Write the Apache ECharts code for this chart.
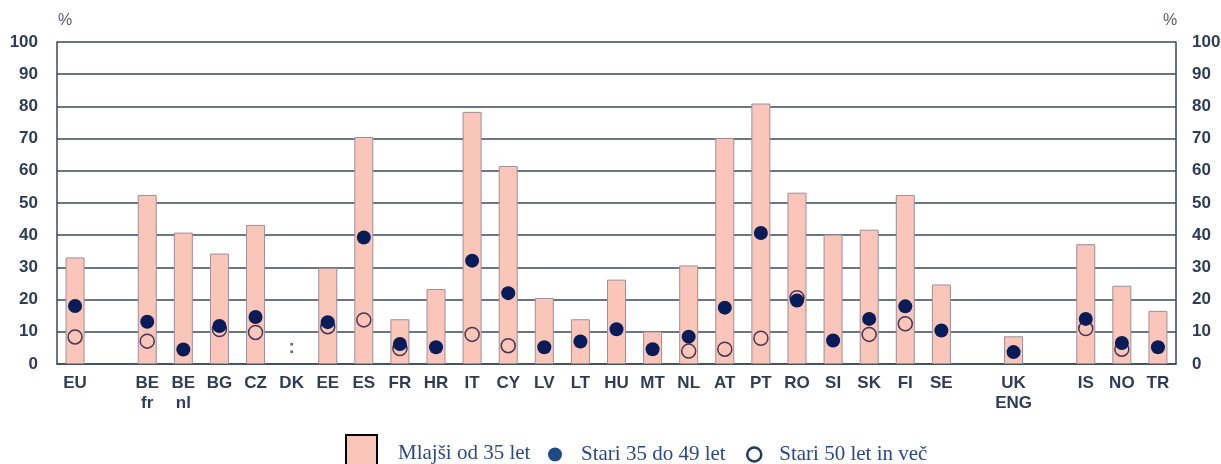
<!DOCTYPE html>
<html>
<head>
<meta charset="utf-8">
<script src="https://cdn.jsdelivr.net/npm/echarts@6/dist/echarts.min.js"></script>
<style>
html,body{margin:0;padding:0;background:#fff;}
#chart{width:1221px;height:464px;}
</style>
</head>
<body>
<div id="chart"></div>
<script>
const categories = ['EU',' ','BE\nfr','BE\nnl','BG','CZ','DK','EE','ES','FR','HR','IT','CY','LV','LT','HU','MT','NL','AT','PT','RO','SI','SK','FI','SE','  ','UK\nENG','   ','IS','NO','TR'];
const under35 = [33.1,null,52.5,40.8,34.3,43.2,null,29.8,70.5,13.9,23.3,78.3,61.5,20.5,13.9,26.2,10.1,30.6,70.2,80.9,53.2,40.2,41.7,52.5,24.7,null,8.6,null,37.2,24.3,16.5];
const age35to49 = [18.0,null,13.1,4.5,11.8,14.6,null,13.0,39.3,6.2,5.2,32.1,22.0,5.2,7.0,10.8,4.6,8.5,17.5,40.7,19.7,7.3,14.0,17.9,10.4,null,3.7,null,14.0,6.5,5.2];
const age50plus = [8.4,null,7.1,null,10.7,9.8,null,11.6,13.7,4.8,null,9.2,5.7,null,null,null,null,4.0,4.6,8.0,20.6,null,9.2,12.5,null,null,null,null,11.0,4.6,null];
const notAvailable = [null,null,null,null,null,null,0,null,null,null,null,null,null,null,null,null,null,null,null,null,null,null,null,null,null,null,null,null,null,null,null];
const yTicks = {min:0, max:100, interval:10};
const seriesNames = ['Mlajši od 35 let','Stari 35 do 49 let','Stari 50 let in več'];
const unitLabel = '%';

const axisFont = 'Liberation Sans Narrow, Arial Narrow, Liberation Sans, Arial, sans-serif';
const inkColor = '#2e3d57';
const gridColor = '#38475f';
const barColor = '#f9c6b9';
const legendText = {fontFamily:'Liberation Serif, Times New Roman, serif', fontSize:21, color:'#2b4a82'};
const unitStyle = {fontFamily:'Liberation Sans, Arial, sans-serif', fontSize:16, fill:'#55606e'};

const chart = echarts.init(document.getElementById('chart'), null, {renderer:'canvas'});
chart.setOption({
  animation:false,
  grid:{left:57, right:45, top:42, bottom:100, outerBoundsMode:'none', containLabel:false},
  graphic:[
    {type:'text', left:58, top:13, style:Object.assign({text:unitLabel}, unitStyle)},
    {type:'text', left:1163, top:13, style:Object.assign({text:unitLabel}, unitStyle)},
    {type:'rect', left:345, top:434, z:100, shape:{width:31, height:36},
     style:{fill:barColor, stroke:'#000', lineWidth:2}}
  ],
  legend:[
    {left:340, top:429, itemWidth:31, itemHeight:36, selectedMode:false,
     data:[{name:seriesNames[0], icon:'rect', itemStyle:{color:barColor, borderColor:'#000', borderWidth:2}}],
     textStyle:Object.assign({padding:[0,0,0,16]}, legendText)},
    {left:543, top:439, itemWidth:14, itemHeight:14, selectedMode:false,
     data:[{name:seriesNames[1], icon:'circle', itemStyle:{color:'#1f4a85', borderWidth:0, opacity:1}}],
     textStyle:Object.assign({padding:[0,0,0,14]}, legendText)},
    {left:741, top:439, itemWidth:14, itemHeight:14, selectedMode:false,
     data:[{name:seriesNames[2], icon:'circle', itemStyle:{color:'#fff', borderColor:'#1f3a5f', borderWidth:2.5, opacity:1}}],
     textStyle:Object.assign({padding:[0,0,0,13]}, legendText)}
  ],
  xAxis:{
    type:'category', data:categories, boundaryGap:true,
    axisLine:{show:true, lineStyle:{color:gridColor, width:1.5}},
    axisTick:{show:false},
    axisLabel:{interval:0, margin:9, fontFamily:axisFont, fontWeight:'bold', fontSize:17, lineHeight:20, color:inkColor}
  },
  yAxis:[
    {type:'value', min:yTicks.min, max:yTicks.max, interval:yTicks.interval, position:'left',
     axisLine:{show:true, lineStyle:{color:gridColor, width:1.5}},
     axisTick:{show:false},
     splitLine:{show:true, lineStyle:{color:gridColor, width:1.5}},
     axisLabel:{margin:19, fontFamily:axisFont, fontWeight:'bold', fontSize:17, color:inkColor}},
    {type:'value', min:yTicks.min, max:yTicks.max, interval:yTicks.interval, position:'right',
     axisLine:{show:true, lineStyle:{color:gridColor, width:1.5}},
     axisTick:{show:false},
     splitLine:{show:false},
     axisLabel:{margin:16, fontFamily:axisFont, fontWeight:'bold', fontSize:17, color:inkColor}}
  ],
  series:[
    {name:seriesNames[0], type:'bar', data:under35, barWidth:19,
     itemStyle:{color:barColor, borderColor:'#9e8f98', borderWidth:1, opacity:1}},
    {name:seriesNames[2], type:'scatter', data:age50plus, symbol:'circle', symbolSize:14, z:3,
     itemStyle:{color:'rgba(255,255,255,0)', borderColor:'#4b3550', borderWidth:1.5, opacity:1}},
    {name:seriesNames[1], type:'scatter', data:age35to49, symbol:'circle', symbolSize:14, z:4,
     itemStyle:{color:'#0a1c58', opacity:1}},
    {name:'n/a', type:'scatter', data:notAvailable, symbolSize:0, z:5,
     label:{show:true, formatter:':', position:'inside', offset:[0,-16], fontFamily:axisFont, fontWeight:'bold', fontSize:19, color:inkColor}}
  ]
});
</script>
</body>
</html>
